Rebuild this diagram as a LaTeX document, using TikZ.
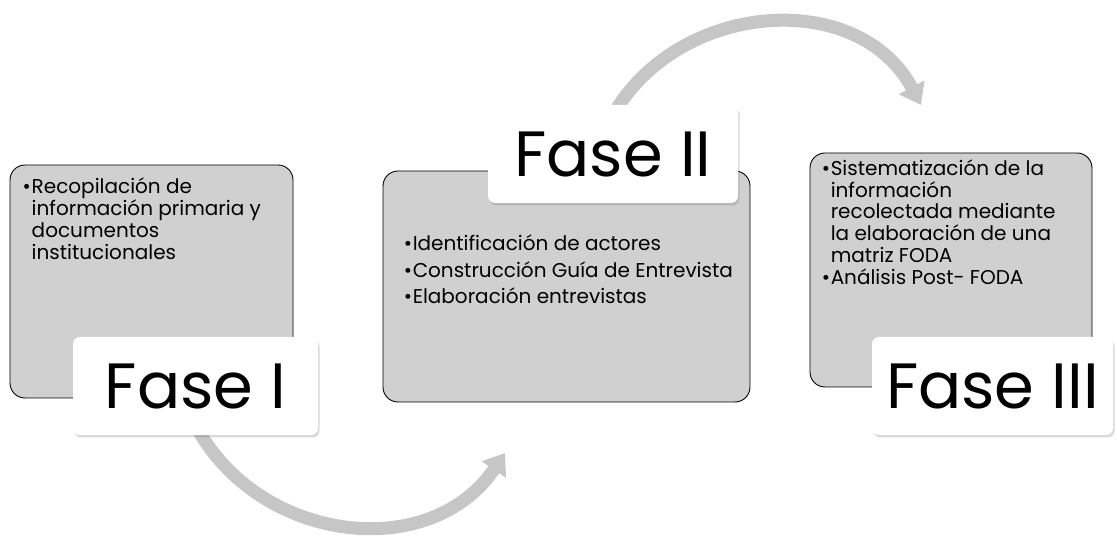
\documentclass[tikz,border=0pt]{standalone}
\usepackage{fontspec}
\setmainfont{Poppins}
\usetikzlibrary{arrows.meta,shadows,backgrounds}

\definecolor{boxgray}{RGB}{208,208,208}
\definecolor{arrowgray}{RGB}{198,198,198}

\tikzset{
	phasebox/.style={draw=black, line width=0.9pt, fill=boxgray, rounded corners=15pt, inner sep=0pt},
	phaselabel/.style={fill=white, rounded corners=7pt, inner sep=0pt, minimum height=98pt,
		drop shadow={opacity=0.3, shadow xshift=1.5pt, shadow yshift=-2.5pt},
		font=\fontsize{64}{70}\selectfont},
	itemtext/.style={anchor=north west, align=left, inner sep=0pt},
	cyclearrow/.style={draw=arrowgray, line width=13pt, -{Triangle[length=20pt,width=28pt]}}
}

\newcommand{\bul}{\makebox[9pt][l]{\textbullet}}
\newcommand{\ind}{\hspace*{9pt}}

\begin{document}
\begin{tikzpicture}[x=1pt, y=1pt]
	\useasboundingbox (0,0) rectangle (1117,543);

	% boxes
	\node[phasebox, minimum width=283pt, minimum height=233pt] (box1) at (151.5,261.5) {};
	\node[phasebox, minimum width=367pt, minimum height=231pt] (box2) at (566.5,256.5) {};
	\node[phasebox, minimum width=282pt, minimum height=234pt] (box3) at (951,273) {};

	\node[itemtext, font=\fontsize{20}{22}\selectfont] (txt1) at ([shift={(13pt,-13pt)}]box1.north west)
		{\bul Recopilación de\\ \ind información primaria y\\ \ind documentos\\ \ind institucionales};
	\node[itemtext, font=\fontsize{20}{26.7}\selectfont] (txt2) at ([shift={(21pt,-64pt)}]box2.north west)
		{\bul Identificación de actores\\ \bul Construcción Guía de Entrevista\\ \bul Elaboración entrevistas};
	\node[itemtext, font=\fontsize{20}{21.7}\selectfont] (txt3) at ([shift={(12pt,-7pt)}]box3.north west)
		{\bul Sistematización de la\\ \ind información\\ \ind recolectada mediante\\ \ind la elaboración de una\\ \ind matriz FODA\\ \bul Análisis Post- FODA};

	% labels
	\node[phaselabel, minimum width=245pt] (lab1) at (195.5,157) {Fase I};
	\node[phaselabel, minimum width=250pt] (lab2) at (613,389) {Fase II};
	\node[phaselabel, minimum width=241pt] (lab3) at (992.5,157) {Fase III};

	\coordinate (tip1) at (505,90);
	\coordinate (tip2) at (921,438);

	\begin{scope}[on background layer]
		\draw[cyclearrow] ([yshift=10pt]lab1.south) to[out=-62, in=236, looseness=1.1] (tip1);
		\draw[cyclearrow] ([yshift=-10pt]lab2.north) to[out=60, in=118, looseness=1.1] (tip2);
	\end{scope}
\end{tikzpicture}
\end{document}
